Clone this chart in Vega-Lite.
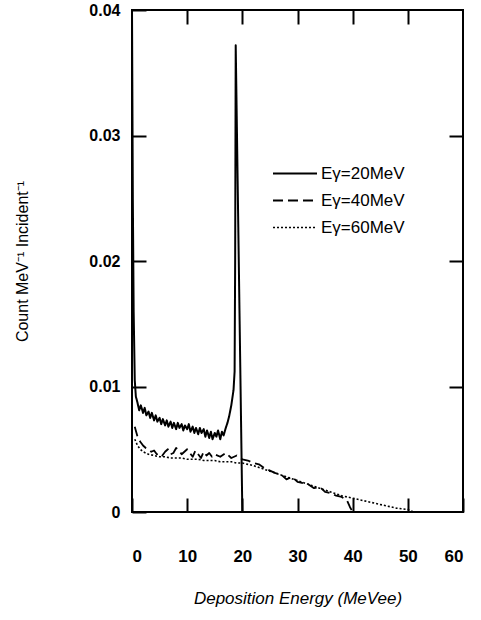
{
  "$schema": "https://vega.github.io/schema/vega-lite/v6.json",
  "width": 331,
  "height": 502,
  "autosize": {"type": "none"},
  "padding": {"left": 132, "top": 10, "right": 18, "bottom": 108},
  "background": "white",
  "config": {
    "view": {"stroke": "black", "strokeWidth": 2},
    "axis": {
      "domain": false,
      "grid": false,
      "tickColor": "black",
      "tickWidth": 2,
      "tickSize": -14,
      "labelFont": "Liberation Sans",
      "labelFontSize": 16,
      "labelFontWeight": "bold",
      "labelColor": "black",
      "titleFont": "Liberation Sans",
      "titleFontWeight": "normal",
      "titleColor": "black"
    }
  },
  "datasets": {
    "spec": [
      {"s": "Eγ=20MeV", "e": 0.0, "c": 0.0400},
      {"s": "Eγ=20MeV", "e": 0.15, "c": 0.0250},
      {"s": "Eγ=20MeV", "e": 0.3, "c": 0.0160},
      {"s": "Eγ=20MeV", "e": 0.5, "c": 0.0105},
      {"s": "Eγ=20MeV", "e": 0.7, "c": 0.0092},
      {"s": "Eγ=20MeV", "e": 1.0, "c": 0.0087},
      {"s": "Eγ=20MeV", "e": 1.3, "c": 0.0081},
      {"s": "Eγ=20MeV", "e": 1.6, "c": 0.0085},
      {"s": "Eγ=20MeV", "e": 2.0, "c": 0.0079},
      {"s": "Eγ=20MeV", "e": 2.3, "c": 0.0083},
      {"s": "Eγ=20MeV", "e": 2.6, "c": 0.0077},
      {"s": "Eγ=20MeV", "e": 3.0, "c": 0.0080},
      {"s": "Eγ=20MeV", "e": 3.3, "c": 0.0075},
      {"s": "Eγ=20MeV", "e": 3.6, "c": 0.0079},
      {"s": "Eγ=20MeV", "e": 4.0, "c": 0.0073},
      {"s": "Eγ=20MeV", "e": 4.3, "c": 0.0077},
      {"s": "Eγ=20MeV", "e": 4.6, "c": 0.0072},
      {"s": "Eγ=20MeV", "e": 5.0, "c": 0.0075},
      {"s": "Eγ=20MeV", "e": 5.3, "c": 0.0070},
      {"s": "Eγ=20MeV", "e": 5.6, "c": 0.0074},
      {"s": "Eγ=20MeV", "e": 6.0, "c": 0.0069},
      {"s": "Eγ=20MeV", "e": 6.3, "c": 0.0073},
      {"s": "Eγ=20MeV", "e": 6.6, "c": 0.0068},
      {"s": "Eγ=20MeV", "e": 7.0, "c": 0.0072},
      {"s": "Eγ=20MeV", "e": 7.3, "c": 0.0067},
      {"s": "Eγ=20MeV", "e": 7.6, "c": 0.0071},
      {"s": "Eγ=20MeV", "e": 8.0, "c": 0.0066},
      {"s": "Eγ=20MeV", "e": 8.3, "c": 0.0071},
      {"s": "Eγ=20MeV", "e": 8.6, "c": 0.0067},
      {"s": "Eγ=20MeV", "e": 9.0, "c": 0.0070},
      {"s": "Eγ=20MeV", "e": 9.3, "c": 0.0065},
      {"s": "Eγ=20MeV", "e": 9.6, "c": 0.0069},
      {"s": "Eγ=20MeV", "e": 10.0, "c": 0.0066},
      {"s": "Eγ=20MeV", "e": 10.3, "c": 0.0070},
      {"s": "Eγ=20MeV", "e": 10.6, "c": 0.0064},
      {"s": "Eγ=20MeV", "e": 11.0, "c": 0.0068},
      {"s": "Eγ=20MeV", "e": 11.3, "c": 0.0063},
      {"s": "Eγ=20MeV", "e": 11.6, "c": 0.0067},
      {"s": "Eγ=20MeV", "e": 12.0, "c": 0.0062},
      {"s": "Eγ=20MeV", "e": 12.3, "c": 0.0067},
      {"s": "Eγ=20MeV", "e": 12.6, "c": 0.0063},
      {"s": "Eγ=20MeV", "e": 13.0, "c": 0.0066},
      {"s": "Eγ=20MeV", "e": 13.3, "c": 0.0060},
      {"s": "Eγ=20MeV", "e": 13.6, "c": 0.0065},
      {"s": "Eγ=20MeV", "e": 14.0, "c": 0.0059},
      {"s": "Eγ=20MeV", "e": 14.3, "c": 0.0064},
      {"s": "Eγ=20MeV", "e": 14.6, "c": 0.0058},
      {"s": "Eγ=20MeV", "e": 15.0, "c": 0.0063},
      {"s": "Eγ=20MeV", "e": 15.3, "c": 0.0060},
      {"s": "Eγ=20MeV", "e": 15.6, "c": 0.0065},
      {"s": "Eγ=20MeV", "e": 16.0, "c": 0.0058},
      {"s": "Eγ=20MeV", "e": 16.3, "c": 0.0064},
      {"s": "Eγ=20MeV", "e": 16.6, "c": 0.0061},
      {"s": "Eγ=20MeV", "e": 17.0, "c": 0.0067},
      {"s": "Eγ=20MeV", "e": 17.3, "c": 0.0071},
      {"s": "Eγ=20MeV", "e": 17.6, "c": 0.0076},
      {"s": "Eγ=20MeV", "e": 18.0, "c": 0.0085},
      {"s": "Eγ=20MeV", "e": 18.4, "c": 0.0097},
      {"s": "Eγ=20MeV", "e": 18.6, "c": 0.0112},
      {"s": "Eγ=20MeV", "e": 18.7, "c": 0.0200},
      {"s": "Eγ=20MeV", "e": 18.8, "c": 0.0372},
      {"s": "Eγ=20MeV", "e": 20.0, "c": 0.0},
      {"s": "Eγ=40MeV", "e": 0.5, "c": 0.0068},
      {"s": "Eγ=40MeV", "e": 1.0, "c": 0.0060},
      {"s": "Eγ=40MeV", "e": 1.5, "c": 0.0056},
      {"s": "Eγ=40MeV", "e": 2.0, "c": 0.0053},
      {"s": "Eγ=40MeV", "e": 2.5, "c": 0.0051},
      {"s": "Eγ=40MeV", "e": 3.0, "c": 0.0050},
      {"s": "Eγ=40MeV", "e": 3.5, "c": 0.0048},
      {"s": "Eγ=40MeV", "e": 4.0, "c": 0.0049},
      {"s": "Eγ=40MeV", "e": 4.5, "c": 0.0046},
      {"s": "Eγ=40MeV", "e": 5.0, "c": 0.0047},
      {"s": "Eγ=40MeV", "e": 5.5, "c": 0.0045},
      {"s": "Eγ=40MeV", "e": 6.0, "c": 0.0048},
      {"s": "Eγ=40MeV", "e": 6.5, "c": 0.0050},
      {"s": "Eγ=40MeV", "e": 7.0, "c": 0.0046},
      {"s": "Eγ=40MeV", "e": 7.5, "c": 0.0047},
      {"s": "Eγ=40MeV", "e": 8.0, "c": 0.0051},
      {"s": "Eγ=40MeV", "e": 8.5, "c": 0.0049},
      {"s": "Eγ=40MeV", "e": 9.0, "c": 0.0046},
      {"s": "Eγ=40MeV", "e": 9.5, "c": 0.0048},
      {"s": "Eγ=40MeV", "e": 10.0, "c": 0.0050},
      {"s": "Eγ=40MeV", "e": 10.5, "c": 0.0047},
      {"s": "Eγ=40MeV", "e": 11.0, "c": 0.0044},
      {"s": "Eγ=40MeV", "e": 11.5, "c": 0.0049},
      {"s": "Eγ=40MeV", "e": 12.0, "c": 0.0046},
      {"s": "Eγ=40MeV", "e": 12.5, "c": 0.0043},
      {"s": "Eγ=40MeV", "e": 13.0, "c": 0.0048},
      {"s": "Eγ=40MeV", "e": 13.5, "c": 0.0045},
      {"s": "Eγ=40MeV", "e": 14.0, "c": 0.0047},
      {"s": "Eγ=40MeV", "e": 14.5, "c": 0.0044},
      {"s": "Eγ=40MeV", "e": 15.0, "c": 0.0046},
      {"s": "Eγ=40MeV", "e": 16.0, "c": 0.0044},
      {"s": "Eγ=40MeV", "e": 17.0, "c": 0.0047},
      {"s": "Eγ=40MeV", "e": 18.0, "c": 0.0043},
      {"s": "Eγ=40MeV", "e": 19.0, "c": 0.0045},
      {"s": "Eγ=40MeV", "e": 20.0, "c": 0.0042},
      {"s": "Eγ=40MeV", "e": 21.0, "c": 0.0041},
      {"s": "Eγ=40MeV", "e": 22.0, "c": 0.0039},
      {"s": "Eγ=40MeV", "e": 23.0, "c": 0.0038},
      {"s": "Eγ=40MeV", "e": 24.0, "c": 0.0035},
      {"s": "Eγ=40MeV", "e": 25.0, "c": 0.0033},
      {"s": "Eγ=40MeV", "e": 26.0, "c": 0.0031},
      {"s": "Eγ=40MeV", "e": 27.0, "c": 0.0030},
      {"s": "Eγ=40MeV", "e": 28.0, "c": 0.0026},
      {"s": "Eγ=40MeV", "e": 29.0, "c": 0.0028},
      {"s": "Eγ=40MeV", "e": 30.0, "c": 0.0024},
      {"s": "Eγ=40MeV", "e": 31.0, "c": 0.0023},
      {"s": "Eγ=40MeV", "e": 32.0, "c": 0.0022},
      {"s": "Eγ=40MeV", "e": 33.0, "c": 0.0019},
      {"s": "Eγ=40MeV", "e": 34.0, "c": 0.0020},
      {"s": "Eγ=40MeV", "e": 35.0, "c": 0.0016},
      {"s": "Eγ=40MeV", "e": 36.0, "c": 0.0015},
      {"s": "Eγ=40MeV", "e": 37.0, "c": 0.0013},
      {"s": "Eγ=40MeV", "e": 38.0, "c": 0.0012},
      {"s": "Eγ=40MeV", "e": 39.0, "c": 0.0009},
      {"s": "Eγ=40MeV", "e": 39.5, "c": 0.0004},
      {"s": "Eγ=40MeV", "e": 40.0, "c": 0.0},
      {"s": "Eγ=60MeV", "e": 0.5, "c": 0.0058},
      {"s": "Eγ=60MeV", "e": 1.0, "c": 0.0053},
      {"s": "Eγ=60MeV", "e": 1.5, "c": 0.0050},
      {"s": "Eγ=60MeV", "e": 2.0, "c": 0.0048},
      {"s": "Eγ=60MeV", "e": 3.0, "c": 0.0046},
      {"s": "Eγ=60MeV", "e": 4.0, "c": 0.0045},
      {"s": "Eγ=60MeV", "e": 5.0, "c": 0.0044},
      {"s": "Eγ=60MeV", "e": 6.0, "c": 0.0044},
      {"s": "Eγ=60MeV", "e": 7.0, "c": 0.0043},
      {"s": "Eγ=60MeV", "e": 8.0, "c": 0.0043},
      {"s": "Eγ=60MeV", "e": 9.0, "c": 0.0043},
      {"s": "Eγ=60MeV", "e": 10.0, "c": 0.0042},
      {"s": "Eγ=60MeV", "e": 11.0, "c": 0.0042},
      {"s": "Eγ=60MeV", "e": 12.0, "c": 0.0042},
      {"s": "Eγ=60MeV", "e": 13.0, "c": 0.0041},
      {"s": "Eγ=60MeV", "e": 14.0, "c": 0.0041},
      {"s": "Eγ=60MeV", "e": 15.0, "c": 0.0041},
      {"s": "Eγ=60MeV", "e": 16.0, "c": 0.0040},
      {"s": "Eγ=60MeV", "e": 17.0, "c": 0.0040},
      {"s": "Eγ=60MeV", "e": 18.0, "c": 0.0040},
      {"s": "Eγ=60MeV", "e": 19.0, "c": 0.0039},
      {"s": "Eγ=60MeV", "e": 20.0, "c": 0.0039},
      {"s": "Eγ=60MeV", "e": 22.0, "c": 0.0037},
      {"s": "Eγ=60MeV", "e": 24.0, "c": 0.0034},
      {"s": "Eγ=60MeV", "e": 26.0, "c": 0.0031},
      {"s": "Eγ=60MeV", "e": 28.0, "c": 0.0028},
      {"s": "Eγ=60MeV", "e": 30.0, "c": 0.0025},
      {"s": "Eγ=60MeV", "e": 32.0, "c": 0.0022},
      {"s": "Eγ=60MeV", "e": 34.0, "c": 0.0019},
      {"s": "Eγ=60MeV", "e": 36.0, "c": 0.0016},
      {"s": "Eγ=60MeV", "e": 38.0, "c": 0.0013},
      {"s": "Eγ=60MeV", "e": 40.0, "c": 0.0011},
      {"s": "Eγ=60MeV", "e": 42.0, "c": 0.0009},
      {"s": "Eγ=60MeV", "e": 44.0, "c": 0.0007},
      {"s": "Eγ=60MeV", "e": 46.0, "c": 0.0005},
      {"s": "Eγ=60MeV", "e": 48.0, "c": 0.0003},
      {"s": "Eγ=60MeV", "e": 50.0, "c": 0.0002},
      {"s": "Eγ=60MeV", "e": 51.0, "c": 0.0}
    ]
  },
  "data": {"name": "spec"},
  "layer": [
    {
      "mark": {"type": "line", "color": "black", "clip": true, "strokeJoin": "round"},
      "encoding": {
        "x": {
          "field": "e", "type": "quantitative",
          "scale": {"domain": [0, 60], "nice": false, "zero": false},
          "axis": {
            "orient": "bottom",
            "values": [0, 10, 20, 30, 40, 50, 60],
            "labelPadding": 50,
            "labelBaseline": "top",
            "labelFontSize": 17,
            "title": "Deposition Energy (MeVee)",
            "titleFontSize": 17,
            "titleFontStyle": "italic",
            "titlePadding": 26
          }
        },
        "y": {
          "field": "c", "type": "quantitative",
          "scale": {"domain": [0, 0.04], "nice": false},
          "axis": {
            "orient": "left",
            "values": [0, 0.01, 0.02, 0.03, 0.04],
            "format": ".2~f",
            "labelPadding": 26,
            "title": "Count MeV⁻¹ Incident⁻¹",
            "titleFontSize": 16,
            "titlePadding": 58
          }
        },
        "strokeDash": {
          "field": "s", "type": "nominal",
          "scale": {"domain": ["Eγ=20MeV", "Eγ=40MeV", "Eγ=60MeV"], "range": [[1, 0], [10, 5], [2, 2]]},
          "legend": {
            "title": null,
            "orient": "none",
            "legendX": 140,
            "legendY": 150,
            "symbolType": "stroke",
            "symbolSize": 1936,
            "symbolStrokeColor": "black",
            "labelFont": "Liberation Sans",
            "labelFontSize": 17,
            "labelColor": "black",
            "labelOffset": 3,
            "clipHeight": 27,
            "rowPadding": 0,
            "padding": 0
          }
        },
        "strokeWidth": {
          "field": "s", "type": "nominal",
          "scale": {"domain": ["Eγ=20MeV", "Eγ=40MeV", "Eγ=60MeV"], "range": [2, 1.6, 1.4]},
          "legend": null
        },
        "detail": {"field": "s"}
      }
    },
    {
      "mark": {"type": "line", "opacity": 0},
      "encoding": {
        "x": {
          "field": "e", "type": "quantitative",
          "axis": {"orient": "top", "values": [10, 20, 30, 40, 50], "labels": false, "title": null}
        },
        "y": {
          "field": "c", "type": "quantitative",
          "axis": {"orient": "right", "values": [0.01, 0.02, 0.03], "labels": false, "title": null}
        },
        "detail": {"field": "s"}
      }
    }
  ],
  "resolve": {"axis": {"x": "independent", "y": "independent"}}
}
